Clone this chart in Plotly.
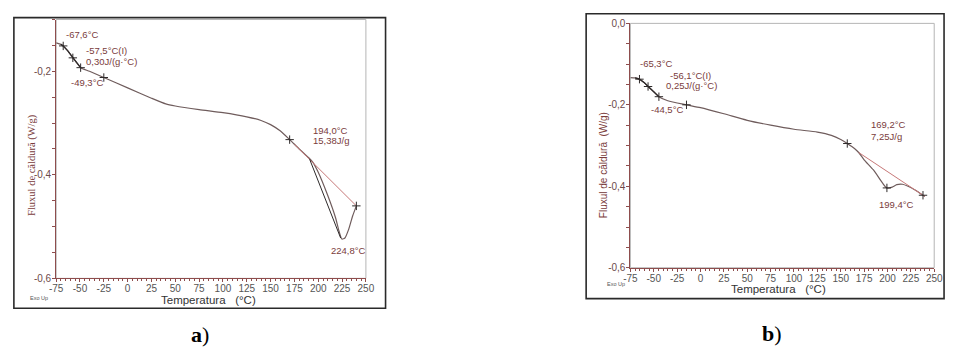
import plotly.graph_objects as go

W, H = 956, 351

# ---- panel a) DSC trace ----
temp_a = [-75, -70, -67.6, -63, -57.5, -52, -49.3, -40, -25, 0, 25, 40, 50, 75, 100, 125,
          140, 150, 160, 170, 180, 190, 194, 200, 210, 218, 222, 224.8, 228, 232, 236, 240]
flux_a = [-0.145, -0.148, -0.151, -0.160, -0.174, -0.187, -0.193, -0.200, -0.212, -0.232,
          -0.252, -0.263, -0.267, -0.274, -0.280, -0.288, -0.295, -0.303, -0.315, -0.332,
          -0.350, -0.367, -0.375, -0.395, -0.440, -0.482, -0.510, -0.524, -0.522, -0.505, -0.480, -0.460]
base_a_t = [175, 240]
base_a_q = [-0.341, -0.460]
tang_a_t = [191, 223.5]
tang_a_q = [-0.370, -0.522]
marks_a = [-67.6, -57.5, -49.3, -25, 170, 240]

# ---- panel b) DSC trace ----
temp_b = [-75, -70, -65.3, -60, -56.1, -50, -44.5, -35, -15, 0, 25, 50, 75, 100, 125, 140,
          150, 157, 165, 169.2, 175, 185, 195, 199.4, 205, 210, 216, 222, 230, 238, 240]
flux_b = [-0.133, -0.134, -0.137, -0.146, -0.155, -0.168, -0.180, -0.190, -0.200, -0.207,
          -0.222, -0.238, -0.250, -0.260, -0.267, -0.275, -0.285, -0.295, -0.308, -0.317,
          -0.335, -0.360, -0.393, -0.404, -0.402, -0.396, -0.395, -0.400, -0.410, -0.422, -0.425]
base_b_t = [169.2, 240]
base_b_q = [-0.317, -0.425]
marks_b = [-65.3, -56.1, -44.5, -15, 157, 199.4, 238]

x_ticks = [-75, -50, -25, 0, 25, 50, 75, 100, 125, 150, 175, 200, 225, 250]
x_labels = ["-75", "-50", "-25", "0", "25", "50", "75", "100", "125", "150", "175", "200", "225", "250"]
y_ticks_a = [-0.6, -0.4, -0.2]
y_labels_a = ["-0,6", "-0,4", "-0,2"]
y_ticks_b = [-0.6, -0.4, -0.2, 0.0]
y_labels_b = ["-0,6", "-0,4", "-0,2", "0,0"]

labels_a = [(-67, -0.128, "-67,6°C"), (-46, -0.159, "-57,5°C(I)"), (-46, -0.181, "0,30J/(g·°C)"),
            (-61.5, -0.222, "-49,3°C"), (192, -0.314, "194,0°C"), (192, -0.334, "15,38J/g"),
            (211, -0.546, "224,8°C")]
labels_b = [(-66.5, -0.099, "-65,3°C"), (-35, -0.128, "-56,1°C(I)"), (-39, -0.152, "0,25J/(g·°C)"),
            (-55, -0.211, "-44,5°C"), (180.5, -0.249, "169,2°C"), (180.5, -0.278, "7,25J/g"),
            (189, -0.444, "199,4°C")]

CURVE = "#6f5c5c"
DARK = "#2e2a2a"
BASE = "#c77878"
AXIS = "#8e4d4d"
LABEL = "#7a3c3c"

fig = go.Figure()


def add_panel(xa, ya, t, q, bt, bq, marks, tangent=None):
    fig.add_trace(go.Scatter(x=t, y=q, mode="lines", line=dict(color=CURVE, width=1.2, shape="spline", smoothing=0.6),
                             xaxis=xa, yaxis=ya, hoverinfo="skip"))
    # darker overlay over the glass-transition step
    tt = [v for v in t if v <= marks[2] + 3]
    qq = q[:len(tt)]
    fig.add_trace(go.Scatter(x=tt[1:], y=qq[1:], mode="lines", line=dict(color=DARK, width=1.3),
                             xaxis=xa, yaxis=ya, hoverinfo="skip"))
    fig.add_trace(go.Scatter(x=bt, y=bq, mode="lines", line=dict(color=BASE, width=1),
                             xaxis=xa, yaxis=ya, hoverinfo="skip"))
    if tangent:
        fig.add_trace(go.Scatter(x=tangent[0], y=tangent[1], mode="lines",
                                 line=dict(color=DARK, width=1), xaxis=xa, yaxis=ya, hoverinfo="skip"))
    mq = [q[t.index(m)] for m in marks]
    fig.add_trace(go.Scatter(x=marks, y=mq, mode="markers",
                             marker=dict(symbol="cross-thin", size=6, line=dict(color=DARK, width=1)),
                             xaxis=xa, yaxis=ya, hoverinfo="skip"))


add_panel("x", "y", temp_a, flux_a, base_a_t, base_a_q, marks_a, (tang_a_t, tang_a_q))
add_panel("x2", "y2", temp_b, flux_b, base_b_t, base_b_q, marks_b)


def xaxis(domain, anchor):
    return dict(domain=domain, anchor=anchor, range=[-75, 250], showgrid=False, zeroline=False,
                showline=True, linecolor=AXIS, linewidth=1, ticks="outside", ticklen=3,
                tickcolor=AXIS, tickvals=x_ticks, ticktext=x_labels, ticklabelstandoff=-2,
                tickfont=dict(family="Liberation Sans", size=10, color="#555555"),
                minor=dict(tickvals=list(range(-75, 251, 5)), ticks="outside", ticklen=2, tickcolor=AXIS))


def yaxis(domain, anchor, rng, vals, text):
    return dict(domain=domain, anchor=anchor, range=rng, showgrid=False, zeroline=False,
                showline=True, linecolor=AXIS, linewidth=1, ticks="outside", ticklen=3,
                tickcolor=AXIS, tickvals=vals, ticktext=text, ticklabelstandoff=-1,
                tickfont=dict(family="Liberation Sans", size=10, color="#6d4a4a"),
                minor=dict(tickvals=[round(-0.6 + 0.05 * i, 2) for i in range(13)],
                           ticks="outside", ticklen=3, tickcolor=AXIS))


def px(x):
    return x / W


def py(y):
    return 1 - y / H


fig.update_layout(
    width=W, height=H, margin=dict(l=0, r=0, t=0, b=0),
    paper_bgcolor="white", plot_bgcolor="white", showlegend=False,
    xaxis=xaxis([px(50), px(365)], "y"),
    yaxis=yaxis([py(282), py(14)], "x", [-0.6, -0.1], y_ticks_a, y_labels_a),
    xaxis2=xaxis([px(634), px(943)], "y2"),
    yaxis2=yaxis([py(271), py(18)], "x2", [-0.6, 0.0], y_ticks_b, y_labels_b),
)

shapes = []
# light inner border of both plot areas
for xr, yr in (("x domain", "y domain"), ("x2 domain", "y2 domain")):
    shapes.append(dict(type="rect", xref=xr, yref=yr, x0=0, x1=1, y0=0, y1=1,
                       line=dict(color="#b5b5b5", width=1), layer="below"))
# outer frames
shapes.append(dict(type="rect", xref="paper", yref="paper", x0=px(7), x1=px(385), y0=py(313), y1=py(12),
                   line=dict(color="#2a2a2a", width=1.6)))
shapes.append(dict(type="rect", xref="paper", yref="paper", x0=px(589), x1=px(953), y0=py(303), y1=py(8),
                   line=dict(color="#2a2a2a", width=1.6)))
fig.update_layout(shapes=shapes)

ann = []
for x, y, s in labels_a:
    ann.append(dict(x=x, y=y, xref="x", yref="y", text=s, showarrow=False, xanchor="left",
                    yanchor="middle", font=dict(family="Liberation Sans", size=9.5, color=LABEL)))
for x, y, s in labels_b:
    ann.append(dict(x=x, y=y, xref="x2", yref="y2", text=s, showarrow=False, xanchor="left",
                    yanchor="middle", font=dict(family="Liberation Sans", size=9.5, color=LABEL)))


def note(x, y, s, font, angle=0):
    return dict(x=px(x), y=py(y), xref="paper", yref="paper", text=s, showarrow=False,
                xanchor="center", yanchor="middle", textangle=angle, font=font)


# axis titles, exo marker and panel letters
ann += [
    note(26, 165, "Fluxul de căldură (W/g)", dict(family="Liberation Serif", size=10.5, color=LABEL), -90),
    note(607, 165, "Fluxul de căldură  (W/g)", dict(family="Liberation Sans", size=10, color=LABEL), -90),
    note(205, 304, "Temperatura   (°C)", dict(family="Liberation Sans", size=11.5, color="#333333")),
    note(785, 293, "Temperatura   (°C)", dict(family="Liberation Sans", size=11.5, color="#333333")),
    note(33, 302, "Exo Up", dict(family="Liberation Sans", size=5.5, color="#555555")),
    note(619, 288, "Exo Up", dict(family="Liberation Sans", size=5.5, color="#555555")),
    note(196, 340, "<b>a</b>)", dict(family="Liberation Serif", size=22, color="black")),
    note(778, 339, "<b>b</b>)", dict(family="Liberation Serif", size=22, color="black")),
]
fig.update_layout(annotations=ann)

fig.write_html("out.html")
